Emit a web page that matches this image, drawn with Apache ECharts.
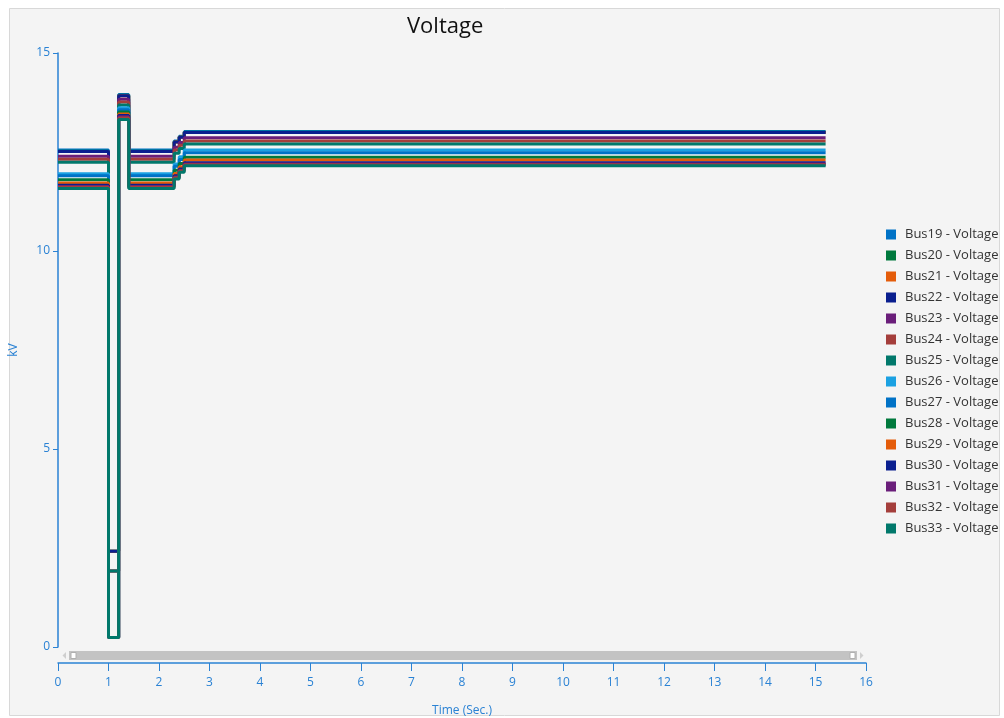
<!DOCTYPE html>
<html>
<head>
<meta charset="utf-8">
<script src="https://cdn.jsdelivr.net/npm/echarts@6/dist/echarts.min.js"></script>
<style>
html,body{margin:0;padding:0;background:#fff;}
#chart{width:1004px;height:718px;}
</style>
</head>
<body>
<div id="chart"></div>
<script>
// Time breakpoints (s); each series holds its value between consecutive breakpoints
const times = [0, 1.0, 1.2, 1.4, 2.3, 2.4, 2.5, 15.2];
const seriesNames = ['Bus19 - Voltage','Bus20 - Voltage','Bus21 - Voltage','Bus22 - Voltage','Bus23 - Voltage','Bus24 - Voltage','Bus25 - Voltage','Bus26 - Voltage','Bus27 - Voltage','Bus28 - Voltage','Bus29 - Voltage','Bus30 - Voltage','Bus31 - Voltage','Bus32 - Voltage','Bus33 - Voltage'];
// values per interval: pre-fault, fault, recovery spike, post, step1, step2, final
const bus19 = [12.55, 2.42, 13.95, 12.55, 12.78, 12.90, 13.02];
const bus20 = [12.52, 2.42, 13.93, 12.52, 12.76, 12.88, 13.00];
const bus21 = [12.51, 2.42, 13.92, 12.51, 12.75, 12.87, 12.99];
const bus22 = [12.51, 2.42, 13.92, 12.51, 12.75, 12.87, 12.99];
const bus23 = [12.39, 1.92, 13.83, 12.39, 12.62, 12.74, 12.86];
const bus24 = [12.32, 1.92, 13.76, 12.32, 12.55, 12.67, 12.78];
const bus25 = [12.24, 1.92, 13.69, 12.24, 12.47, 12.59, 12.70];
const bus26 = [11.95, 0.24, 13.62, 11.95, 12.20, 12.38, 12.55];
const bus27 = [11.90, 0.24, 13.57, 11.90, 12.14, 12.31, 12.48];
const bus28 = [11.80, 0.24, 13.51, 11.80, 12.04, 12.21, 12.37];
const bus29 = [11.72, 0.24, 13.46, 11.72, 11.96, 12.13, 12.30];
const bus30 = [11.66, 0.24, 13.42, 11.66, 11.90, 12.07, 12.23];
const bus31 = [11.63, 0.24, 13.39, 11.63, 11.87, 12.04, 12.20];
const bus32 = [11.61, 0.24, 13.36, 11.61, 11.85, 12.02, 12.18];
const bus33 = [11.58, 0.24, 13.32, 11.58, 11.82, 11.99, 12.15];
const seriesValues = [bus19,bus20,bus21,bus22,bus23,bus24,bus25,bus26,bus27,bus28,bus29,bus30,bus31,bus32,bus33];
const yTicks = [0, 5, 10, 15];
const xTicks = [0,1,2,3,4,5,6,7,8,9,10,11,12,13,14,15,16];

const palette = ['#0072C6','#00793D','#E45C0A','#0A1F8F','#6A1E7A','#A43E3B','#01786B','#1BA1E2'];
const axisBlue = '#2A82D4';

function holdData(vals){
  const d = [];
  for (let i = 0; i < vals.length; i++){
    d.push([times[i], vals[i]]);
    d.push([times[i+1], vals[i]]);
  }
  return d;
}

const chart = echarts.init(document.getElementById('chart'), null, {renderer:'canvas'});
const font = '"Open Sans", "Noto Sans", sans-serif';
chart.setOption({
  animation: false,
  backgroundColor: '#fff',
  color: palette,
  textStyle: {fontFamily: font},
  graphic: [
    {type:'rect', z:-10, shape:{x:9.5,y:8.5,width:990,height:707}, style:{fill:'#f4f4f4', stroke:'#d8d8d8', lineWidth:1}},
    {type:'rect', z:10, shape:{x:69,y:651,width:788,height:9}, style:{fill:'#c3c3c3'}},
    {type:'rect', z:11, shape:{x:71,y:652.5,width:5,height:6}, style:{fill:'#ffffff', stroke:'#b0b0b0', lineWidth:1}},
    {type:'rect', z:11, shape:{x:850,y:652.5,width:5,height:6}, style:{fill:'#ffffff', stroke:'#b0b0b0', lineWidth:1}},
    {type:'polygon', z:11, shape:{points:[[66,652],[66,659],[62.5,655.5]]}, style:{fill:'#cfcfcf'}},
    {type:'polygon', z:11, shape:{points:[[860,652],[860,659],[863.5,655.5]]}, style:{fill:'#cfcfcf'}}
  ],
  title: {
    text: 'Voltage', left: 402, top: 11,
    textStyle: {fontSize: 22, fontWeight: 'normal', color: '#111', fontFamily: font}
  },
  legend: {
    orient: 'vertical', left: 881, top: 223,
    itemWidth: 10, itemHeight: 10, itemGap: 8,
    icon: 'rect',
    textStyle: {fontSize: 13, color: '#333', padding: [0,0,0,4], fontFamily: font},
    data: seriesNames
  },
  grid: {left: 58, top: 53, right: 138, bottom: 71, containLabel: false, outerBoundsMode: 'none'},
  xAxis: {
    type: 'value', min: 0, max: 16, interval: 1, offset: 16,
    name: 'Time (Sec.)', nameLocation: 'middle', nameGap: 42,
    nameTextStyle: {color: axisBlue, fontSize: 12},
    axisLine: {show: true, onZero: false, lineStyle: {color: axisBlue, width: 1.5}},
    axisTick: {show: true, length: 8, lineStyle: {color: axisBlue}},
    axisLabel: {color: axisBlue, fontSize: 12, margin: 14, formatter: v => xTicks.includes(v) ? String(v) : ''},
    splitLine: {show: false}
  },
  yAxis: {
    type: 'value', min: 0, max: 15, interval: 5,
    name: 'kV', nameLocation: 'middle', nameGap: 38,
    nameTextStyle: {color: axisBlue, fontSize: 12},
    axisLine: {show: true, lineStyle: {color: axisBlue, width: 1.5}},
    axisTick: {show: true, length: 5, lineStyle: {color: axisBlue}},
    axisLabel: {color: axisBlue, fontSize: 12, margin: 8, formatter: v => yTicks.includes(v) ? String(v) : ''},
    splitLine: {show: false}
  },
  series: seriesNames.map((n, i) => ({
    name: n, type: 'line', showSymbol: false, symbol: 'none',
    data: holdData(seriesValues[i]),
    lineStyle: {width: 3, color: palette[i % palette.length]},
    itemStyle: {color: palette[i % palette.length]}
  }))
});
</script>
</body>
</html>
